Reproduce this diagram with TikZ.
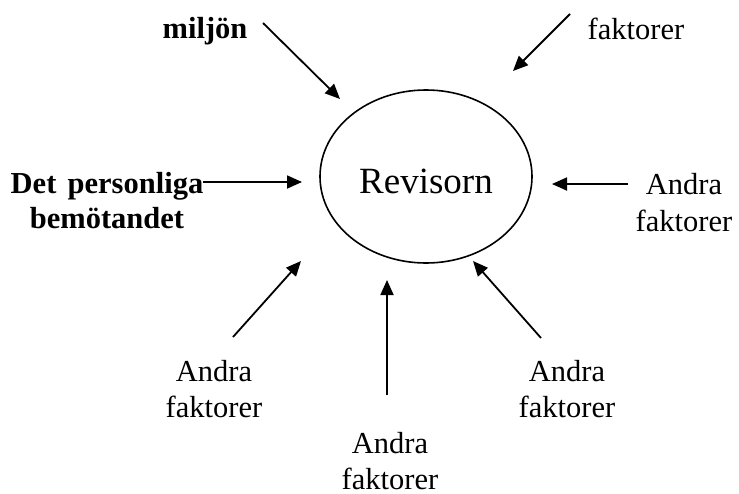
\documentclass[tikz,border=0pt]{standalone}
\usepackage{fontspec}
\setmainfont{Liberation Serif}
\usepackage{tikz}
\usetikzlibrary{arrows.meta,shapes.geometric}

\begin{document}
\begin{tikzpicture}[x=1pt,y=-1pt,>={Triangle[length=15pt,width=13pt]},
  lbl/.style={inner sep=0pt,anchor=base,align=center,font=\fontsize{30.5}{36}\selectfont},
  arr/.style={->,line width=1.8pt}]
\useasboundingbox (0,0) rectangle (739,493);
\node[draw,ellipse,line width=1.6pt,minimum width=212pt,minimum height=173pt,inner sep=0pt,
  text height=33pt,text depth=0pt,font=\fontsize{37}{40}\selectfont] (rev) at (426,176.5) {Revisorn};
\node[lbl,font=\fontsize{30.5}{36}\selectfont\bfseries] (miljo) at (205,38) {miljön};
\node[lbl] (faktTop) at (636,39) {faktorer};
% base = last line
\node[lbl,font=\fontsize{30.5}{35}\selectfont\bfseries] (personlig) at (107,228) {Det\hspace{0.12em} personliga\\bemötandet};
\node[lbl,font=\fontsize{30.5}{37}\selectfont] (andraR) at (684,231) {Andra\\faktorer};
\node[lbl] (andraBL) at (214,417) {Andra\\faktorer};
\node[lbl] (andraB) at (390,489) {Andra\\faktorer};
\node[lbl] (andraBR) at (567,417) {Andra\\faktorer};
% arrow ends
\coordinate (m0) at (263,23);   \coordinate (m1) at (340,99);
\coordinate (t0) at (570,14);   \coordinate (t1) at (513,71);
\coordinate (p0) at (203,182);  \coordinate (p1) at (302,182);
\coordinate (r0) at (628,184);  \coordinate (r1) at (552,184);
\coordinate (bl0) at (233,337); \coordinate (bl1) at (301,261);
\coordinate (b0) at (387,395);  \coordinate (b1) at (387,280);
\coordinate (br0) at (541,338); \coordinate (br1) at (473,261);
\draw[arr] (m0) -- (m1);
\draw[arr] (t0) -- (t1);
\draw[arr] (p0) -- (p1);
\draw[arr] (r0) -- (r1);
\draw[arr] (bl0) -- (bl1);
\draw[arr] (b0) -- (b1);
\draw[arr] (br0) -- (br1);
\end{tikzpicture}
\end{document}
